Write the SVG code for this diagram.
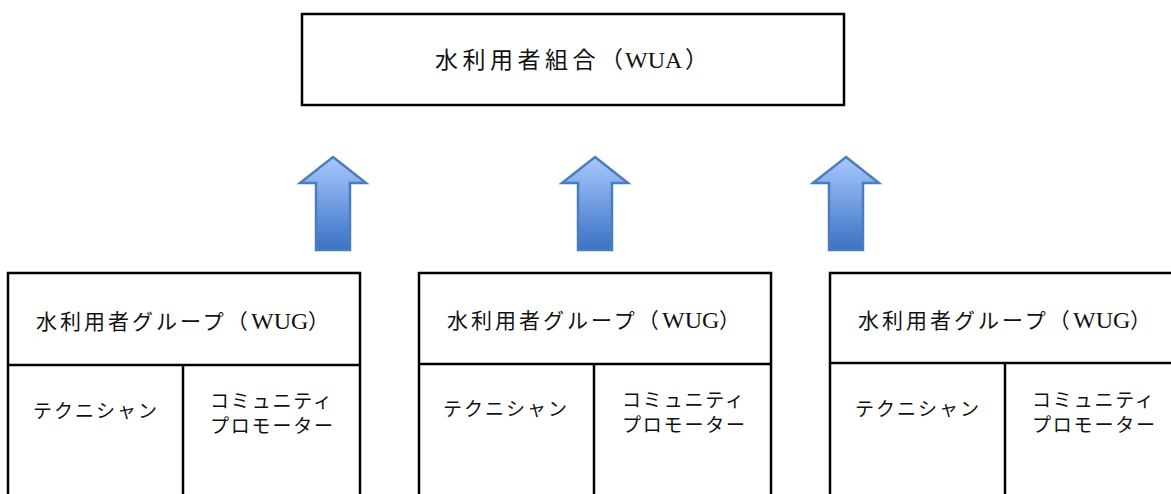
<svg xmlns="http://www.w3.org/2000/svg" width="1171" height="494" viewBox="0 0 1171 494">
<style>
.box{fill:#fff;stroke:#000;stroke-width:2.5}
.ln{stroke:#000;stroke-width:2.5}
.t{font-family:"Liberation Serif","Noto Sans CJK JP",serif;fill:#111}
.ti{font-size:21px;letter-spacing:3px}
.la{font-size:24px}
.pr{font-size:21px}
.sm{font-size:19px}
.arr{fill:url(#g);stroke:#4a7ebb;stroke-width:2.5;stroke-linejoin:miter}
</style>
<defs>
<linearGradient id="g" x1="0" y1="0" x2="0" y2="1">
<stop offset="0" stop-color="#a8c8fd"/>
<stop offset="1" stop-color="#3a72c4"/>
</linearGradient>
</defs>
<rect width="1171" height="494" fill="#fff"/>
<g id="wua">
<rect class="box" x="302" y="14" width="542" height="91"/>
<text class="t" y="68"><tspan x="435" font-size="23" letter-spacing="4.5">水利用者組合（</tspan><tspan x="625" font-size="24">WUA</tspan><tspan x="685" font-size="23">）</tspan></text>
</g>
<g id="connectors">
<path class="arr" d="M333,157 L366,183 L350,183 L350,250 L316,250 L316,183 L300,183 Z"/>
<path class="arr" d="M595,157 L628,183 L612,183 L612,250 L578,250 L578,183 L562,183 Z"/>
<path class="arr" d="M846,157 L879,183 L863,183 L863,250 L829,250 L829,183 L813,183 Z"/>
</g>
<g id="wug1">
<rect class="box" x="8" y="273" width="352" height="240"/>
<line class="ln" x1="8" y1="365" x2="360" y2="365"/>
<line class="ln" x1="183" y1="365" x2="183" y2="494"/>
<text class="t" y="329"><tspan class="ti" x="36">水利用者グループ（</tspan><tspan class="la" x="251">WUG</tspan><tspan class="pr" x="308">）</tspan></text>
<text class="t sm" x="33" y="418" textLength="124" lengthAdjust="spacing">テクニシャン</text>
<text class="t sm" x="210" y="408" textLength="122" lengthAdjust="spacing">コミュニティ</text>
<text class="t sm" x="210" y="433" textLength="123" lengthAdjust="spacing">プロモーター</text>
</g>
<g id="wug2">
<rect class="box" x="419" y="273" width="352" height="240"/>
<line class="ln" x1="419" y1="364" x2="771" y2="364"/>
<line class="ln" x1="594" y1="364" x2="594" y2="494"/>
<text class="t" y="328"><tspan class="ti" x="447">水利用者グループ（</tspan><tspan class="la" x="662">WUG</tspan><tspan class="pr" x="719">）</tspan></text>
<text class="t sm" x="443" y="416" textLength="124" lengthAdjust="spacing">テクニシャン</text>
<text class="t sm" x="622" y="407" textLength="122" lengthAdjust="spacing">コミュニティ</text>
<text class="t sm" x="622" y="432" textLength="123" lengthAdjust="spacing">プロモーター</text>
</g>
<g id="wug3">
<rect class="box" x="830" y="273" width="352" height="240"/>
<line class="ln" x1="830" y1="363" x2="1182" y2="363"/>
<line class="ln" x1="1005" y1="363" x2="1005" y2="494"/>
<text class="t" y="328"><tspan class="ti" x="858">水利用者グループ（</tspan><tspan class="la" x="1073">WUG</tspan><tspan class="pr" x="1130">）</tspan></text>
<text class="t sm" x="855" y="416" textLength="124" lengthAdjust="spacing">テクニシャン</text>
<text class="t sm" x="1032" y="407" textLength="122" lengthAdjust="spacing">コミュニティ</text>
<text class="t sm" x="1032" y="432" textLength="123" lengthAdjust="spacing">プロモーター</text>
</g>
</svg>
